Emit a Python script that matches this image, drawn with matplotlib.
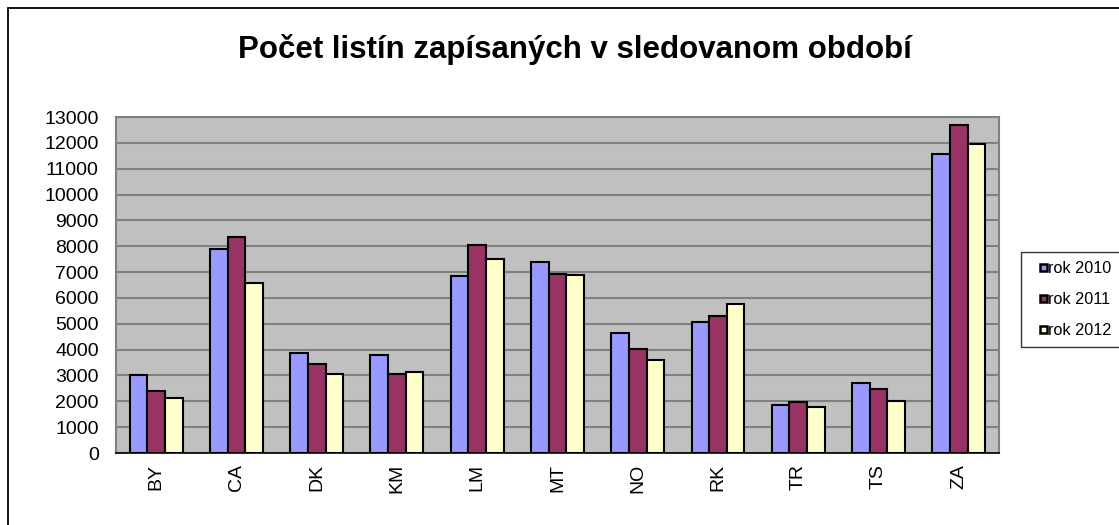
import numpy as np
import matplotlib
matplotlib.use("Agg")
import matplotlib.pyplot as plt
from matplotlib.patches import Rectangle
from matplotlib.container import BarContainer
from matplotlib.legend_handler import HandlerPatch

plt.rcParams['font.family'] = ['Liberation Sans', 'DejaVu Sans']

categories = ["BY", "CA", "DK", "KM", "LM", "MT", "NO", "RK", "TR", "TS", "ZA"]
rok_2010 = [3020, 7900, 3860, 3780, 6830, 7410, 4650, 5070, 1870, 2720, 11580]
rok_2011 = [2410, 8370, 3450, 3070, 8030, 6920, 4010, 5290, 1980, 2490, 12680]
rok_2012 = [2140, 6560, 3050, 3140, 7510, 6880, 3580, 5760, 1790, 2000, 11970]
series_names = ["rok 2010", "rok 2011", "rok 2012"]
colors = ["#9999FF", "#993366", "#FFFFCC"]

fig = plt.figure(figsize=(11.19, 5.25), dpi=100)
ax = fig.add_axes([0.1037, 0.1371, 0.789, 0.640])

# outer chart border (only top and left visible in the original)
fig.patches.append(Rectangle((8 / 1119, -0.1), 1.2, 1.1 - 8 / 525,
                             transform=fig.transFigure, fill=False,
                             edgecolor="black", linewidth=1.3))

x = np.arange(len(categories))
w = 0.22
for i, (vals, name, c) in enumerate(zip([rok_2010, rok_2011, rok_2012], series_names, colors)):
    ax.bar(x + (i - 1) * w, vals, width=w, color=c, edgecolor="black",
           linewidth=1.5, label=name, zorder=3)

ax.set_facecolor("#C0C0C0")
ax.set_xlim(-0.5, len(categories) - 0.5)
ax.set_ylim(0, 13000)
ax.set_yticks(range(0, 13001, 1000))
ax.yaxis.grid(True, color="#808080", linewidth=1.5, zorder=0)
ax.set_axisbelow(True)
ax.set_xticks(x)
ax.set_xticklabels(categories, rotation=90)
ax.tick_params(axis="both", length=0, labelsize=14)
ax.tick_params(axis="y", pad=12.5)
ax.tick_params(axis="x", pad=8)
for s in ["top", "right", "left"]:
    ax.spines[s].set_color("#808080")
    ax.spines[s].set_linewidth(1.5)
ax.spines["bottom"].set_color("black")
ax.spines["bottom"].set_linewidth(1.2)

fig.text(0.514, 0.905, "Počet listín zapísaných v sledovanom období",
         ha="center", va="center", fontsize=22.5, fontweight="bold")


# small square legend keys, sitting at the right end of the handle box
def small_square(legend, orig_handle, xdescent, ydescent, width, height, fontsize):
    s = 4.8
    return Rectangle((-xdescent + width - s, -ydescent + (height - s) / 2), s, s)


def copy_style(legend_handle, orig_handle):
    legend_handle.update_from(orig_handle.patches[0])
    legend_handle.set_linewidth(1.8)


leg = fig.legend(loc="upper left", bbox_to_anchor=(0.912, 0.52), fontsize=11.7,
                 frameon=True, fancybox=False, handlelength=1.05, handleheight=0.7,
                 handletextpad=0.1, labelspacing=1.0, borderpad=0.55, borderaxespad=0,
                 handler_map={BarContainer: HandlerPatch(patch_func=small_square,
                                                         update_func=copy_style)})
leg.get_frame().set_edgecolor("black")
leg.get_frame().set_linewidth(1.0)

fig.savefig("out.png", dpi=100)
